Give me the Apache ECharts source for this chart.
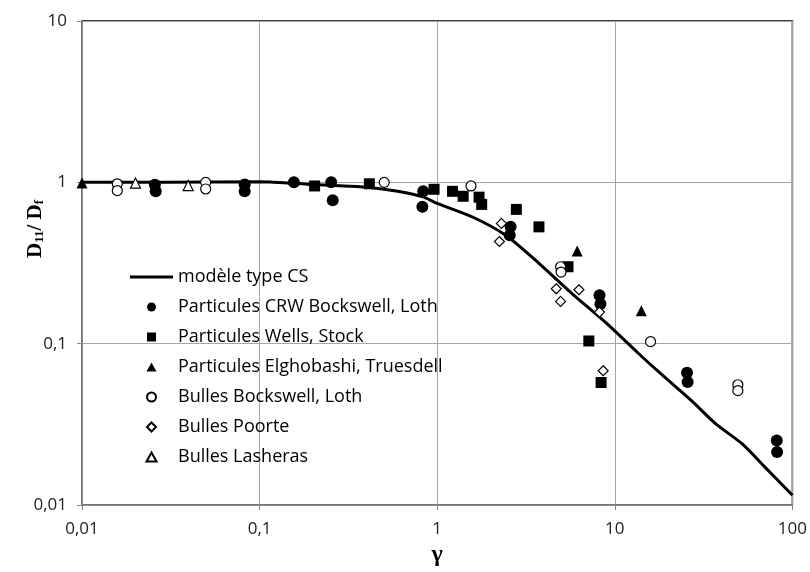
<!DOCTYPE html>
<html>
<head>
<meta charset="utf-8">
<script src="https://cdn.jsdelivr.net/npm/echarts@6/dist/echarts.min.js"></script>
<style>
  html, body { margin: 0; padding: 0; background: #fff; }
  #chart { width: 810px; height: 572px; }
</style>
</head>
<body>
<div id="chart"></div>
<script>
// modèle type CS (courbe)
var modelX = [0.01, 0.03, 0.1, 0.2, 0.3, 0.42, 0.6, 0.84, 1.0, 1.58, 2.43, 3.74, 5.7, 8.9, 13.6, 18.2, 27, 36.9, 52, 70, 100];
var modelY = [1.0, 1.0, 1.01, 0.97, 0.95, 0.93, 0.88, 0.81, 0.74, 0.61, 0.47, 0.315, 0.206, 0.135, 0.087, 0.065, 0.0444, 0.032, 0.024, 0.0172, 0.0115];

// Particules CRW Bockswell, Loth
var crwX = [0.0257, 0.026, 0.0824, 0.0824, 0.156, 0.253, 0.258, 0.834, 0.825, 2.59, 2.56, 8.2, 8.3, 25.5, 25.7, 81.6, 82];
var crwY = [0.968, 0.88, 0.97, 0.88, 1.0, 1.0, 0.774, 0.88, 0.705, 0.53, 0.47, 0.20, 0.176, 0.066, 0.058, 0.0251, 0.0213];

// Particules Wells, Stock
var wellsX = [0.204, 0.415, 0.96, 1.22, 1.40, 1.72, 1.78, 2.79, 3.74, 5.45, 7.14, 8.37];
var wellsY = [0.95, 0.98, 0.906, 0.88, 0.82, 0.81, 0.73, 0.68, 0.53, 0.30, 0.104, 0.0575];

// Particules Elghobashi, Truesdell
var elgX = [0.01, 6.14, 14.1];
var elgY = [0.99, 0.376, 0.16];

// Bulles Bockswell, Loth
var bulBX = [0.0158, 0.0158, 0.0497, 0.0497, 0.503, 1.55, 4.95, 4.98, 15.9, 49.3, 49.3];
var bulBY = [0.98, 0.89, 1.0, 0.91, 1.0, 0.95, 0.30, 0.278, 0.103, 0.0557, 0.0512];

// Bulles Poorte
var poorteX = [2.30, 2.24, 4.68, 4.95, 6.28, 8.2, 8.6];
var poorteY = [0.557, 0.43, 0.219, 0.183, 0.216, 0.157, 0.068];

// Bulles Lasheras
var lashX = [0.02, 0.0396];
var lashY = [0.99, 0.955];

var seriesNames = ['modèle type CS', 'Particules CRW Bockswell, Loth', 'Particules Wells, Stock',
  'Particules Elghobashi, Truesdell', 'Bulles Bockswell, Loth', 'Bulles Poorte', 'Bulles Lasheras'];

function pairs(xs, ys) {
  return xs.map(function (x, i) { return [x, ys[i]]; });
}

function fmt(v) {
  return (+(+v).toPrecision(3)).toString().replace('.', ',');
}

// icones de légende (gardent leurs proportions)
var iconBar = 'path://M0,0L43,0L43,3L0,3Z';
var iconSquare = 'path://M0,0L10,0L10,10L0,10Z';
var iconTri = 'path://M5,0L10,9L0,9Z';
var iconDiamond = 'path://M5,0L10,5L5,10L0,5Z';

var chart = echarts.init(document.getElementById('chart'));

var labelFont = 'Open Sans';
var axisGray = '#868686';
var gridGray = '#a6a6a6';

var filled = { color: '#000', opacity: 1 };
var hollow = { color: '#fff', borderColor: '#000', borderWidth: 1.2, opacity: 1 };

var option = {
  animation: false,
  backgroundColor: '#fff',
  grid: {
    left: 82, right: 17, top: 21, bottom: 64,
    show: true, borderColor: '#000', borderWidth: 1.5
  },
  legend: {
    orient: 'vertical',
    left: 130,
    top: 268,
    padding: 0,
    itemWidth: 43,
    itemHeight: 9,
    itemGap: 12,
    symbolKeepAspect: true,
    textStyle: { fontFamily: labelFont, fontSize: 18, color: '#000', lineHeight: 18 },
    data: [
      { name: seriesNames[0], icon: iconBar },
      { name: seriesNames[1], icon: 'circle' },
      { name: seriesNames[2], icon: iconSquare },
      { name: seriesNames[3], icon: iconTri },
      { name: seriesNames[4], icon: 'circle' },
      { name: seriesNames[5], icon: iconDiamond },
      { name: seriesNames[6], icon: iconTri }
    ]
  },
  xAxis: {
    type: 'log',
    logBase: 10,
    min: 0.01,
    max: 100,
    name: 'γ',
    nameLocation: 'middle',
    nameGap: 37,
    nameTextStyle: { fontFamily: 'Liberation Serif', fontWeight: 'bold', fontSize: 24, color: '#000' },
    axisLine: { show: true, lineStyle: { color: axisGray, width: 1.5 } },
    axisTick: { show: true, length: 5, lineStyle: { color: axisGray } },
    axisLabel: { formatter: fmt, fontFamily: labelFont, fontSize: 17, color: '#222', margin: 16 },
    splitLine: { show: true, lineStyle: { color: gridGray, width: 1 } },
    minorTick: { show: false }
  },
  yAxis: {
    type: 'log',
    logBase: 10,
    min: 0.01,
    max: 10,
    axisLine: { show: true, lineStyle: { color: axisGray, width: 1.5 } },
    axisTick: { show: true, length: 5, lineStyle: { color: axisGray } },
    axisLabel: { formatter: fmt, fontFamily: labelFont, fontSize: 17, color: '#222', margin: 15 },
    splitLine: { show: true, lineStyle: { color: gridGray, width: 1 } }
  },
  graphic: [{
    type: 'text',
    x: 36,
    y: 229,
    rotation: Math.PI / 2,
    style: {
      text: '{b|D}{s|11}{b|/ D}{s|f}',
      align: 'center',
      verticalAlign: 'middle',
      fill: '#000',
      rich: {
        b: { fontFamily: 'Liberation Serif', fontWeight: 'bold', fontSize: 21, fill: '#000' },
        s: { fontFamily: 'Liberation Serif', fontWeight: 'bold', fontSize: 13, fill: '#000', padding: [8, 0, 0, 0] }
      }
    }
  }],
  series: [
    {
      name: seriesNames[0],
      type: 'line',
      data: pairs(modelX, modelY),
      symbol: 'none',
      smooth: 0.25,
      lineStyle: { color: '#000', width: 3 },
      itemStyle: { color: '#000' },
      z: 2
    },
    {
      name: seriesNames[1],
      type: 'scatter',
      data: pairs(crwX, crwY),
      symbol: 'circle',
      symbolSize: 12,
      itemStyle: filled,
      z: 3
    },
    {
      name: seriesNames[2],
      type: 'scatter',
      data: pairs(wellsX, wellsY),
      symbol: 'rect',
      symbolSize: 11,
      itemStyle: filled,
      z: 3
    },
    {
      name: seriesNames[3],
      type: 'scatter',
      data: pairs(elgX, elgY),
      symbol: 'triangle',
      symbolSize: 11,
      itemStyle: filled,
      z: 3
    },
    {
      name: seriesNames[4],
      type: 'scatter',
      data: pairs(bulBX, bulBY),
      symbol: 'circle',
      symbolSize: 10,
      itemStyle: hollow,
      z: 3
    },
    {
      name: seriesNames[5],
      type: 'scatter',
      data: pairs(poorteX, poorteY),
      symbol: 'diamond',
      symbolSize: 10,
      itemStyle: hollow,
      z: 3
    },
    {
      name: seriesNames[6],
      type: 'scatter',
      data: pairs(lashX, lashY),
      symbol: 'triangle',
      symbolSize: 10,
      itemStyle: hollow,
      z: 3
    }
  ]
};

chart.setOption(option);
</script>
</body>
</html>
